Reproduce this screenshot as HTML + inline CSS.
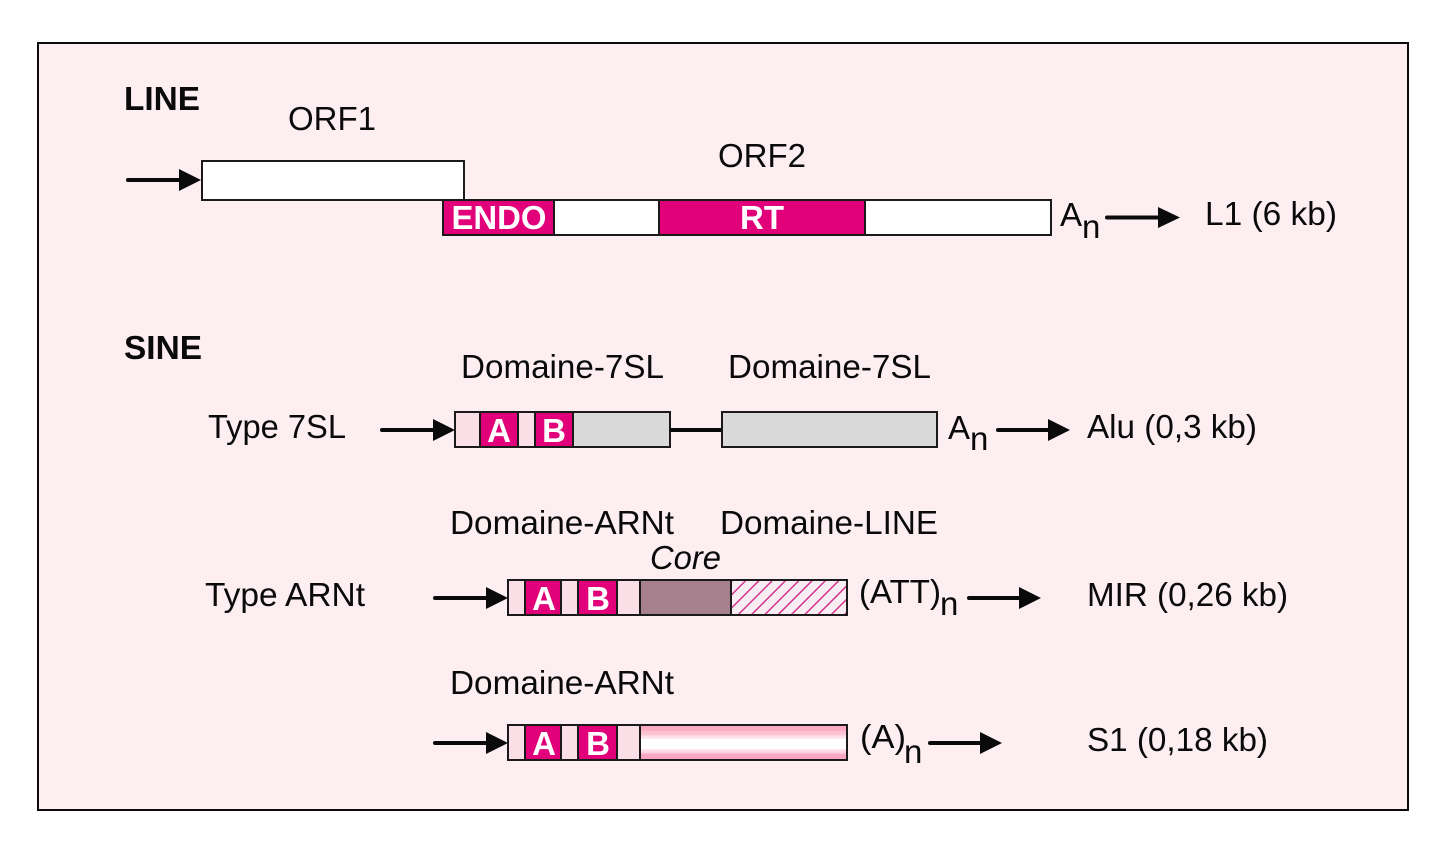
<!DOCTYPE html>
<html><head><meta charset="utf-8"><style>
html,body{margin:0;padding:0;background:#fff}
svg{display:block}
text{font-family:"Liberation Sans",Arial,sans-serif;font-size:33px;fill:#0a0a0a}
.b{font-weight:bold}
.w{font-weight:bold;fill:#fff;text-anchor:middle}
.box{stroke:#1a1a1a;stroke-width:2}
.ln{stroke:#0a0a0a;stroke-width:4;stroke-linecap:round;fill:none}
.ah{fill:#0a0a0a}
</style></head><body>
<svg width="1444" height="853" viewBox="0 0 1444 853" xmlns="http://www.w3.org/2000/svg">
<defs>
<pattern id="h" width="9.4" height="9.4" patternUnits="userSpaceOnUse" patternTransform="translate(731 581) rotate(45)">
<rect width="9.4" height="9.4" fill="#f8edf3"/>
<rect x="0" y="0" width="1.4" height="9.4" fill="#cf2a85"/>
</pattern>
<linearGradient id="g" x1="0" y1="0" x2="0" y2="1">
<stop offset="0" stop-color="#fba6c0"/><stop offset=".15" stop-color="#fbaac3"/>
<stop offset=".18" stop-color="#fcc0d2"/><stop offset=".28" stop-color="#fcc4d5"/>
<stop offset=".31" stop-color="#fee0e8"/><stop offset=".38" stop-color="#fee4eb"/>
<stop offset=".41" stop-color="#fff"/><stop offset=".68" stop-color="#fff"/>
<stop offset=".71" stop-color="#fee0e8"/><stop offset=".8" stop-color="#fdd0de"/>
<stop offset=".84" stop-color="#fba6c0"/><stop offset="1" stop-color="#fba6c0"/>
</linearGradient>
</defs>
<rect width="1444" height="853" fill="#fff"/>
<rect x="38" y="43" width="1370" height="767" fill="#fdeef1" stroke="#0a0a0a" stroke-width="2"/>

<text class="b" x="124" y="110" textLength="76" lengthAdjust="spacingAndGlyphs">LINE</text>
<text x="288" y="130" textLength="88" lengthAdjust="spacingAndGlyphs">ORF1</text>
<text x="718" y="167" textLength="88" lengthAdjust="spacingAndGlyphs">ORF2</text>
<line class="ln" x1="128" y1="180" x2="182" y2="180"/><polygon class="ah" points="179,169 201,180 179,191"/>
<rect class="box" x="202" y="161" width="262" height="39" fill="#fff"/>
<rect class="box" x="443" y="200" width="608" height="35" fill="#fff"/>
<rect class="box" x="443" y="200" width="111" height="35" fill="#e2007a"/>
<rect class="box" x="659" y="200" width="206" height="35" fill="#e2007a"/>
<text class="w" x="499" y="229" textLength="95" lengthAdjust="spacingAndGlyphs">ENDO</text>
<text class="w" x="762" y="229">RT</text>
<text x="1060" y="226">A</text><text x="1082" y="238">n</text>
<line class="ln" x1="1107" y1="217.5" x2="1160" y2="217.5"/><polygon class="ah" points="1158,207 1180,217.5 1158,228"/>
<text x="1205" y="225" textLength="132" lengthAdjust="spacingAndGlyphs">L1 (6 kb)</text>

<text class="b" x="124" y="359" textLength="78" lengthAdjust="spacingAndGlyphs">SINE</text>
<text x="461" y="378" textLength="203" lengthAdjust="spacingAndGlyphs">Domaine-7SL</text>
<text x="728" y="378" textLength="203" lengthAdjust="spacingAndGlyphs">Domaine-7SL</text>
<text x="208" y="438" textLength="138" lengthAdjust="spacingAndGlyphs">Type 7SL</text>
<line class="ln" x1="382" y1="430" x2="436" y2="430"/><polygon class="ah" points="433,419 455,430 433,441"/>
<rect class="box" x="455" y="412" width="215" height="35" fill="#d9d9d9"/>
<rect class="box" x="455" y="412" width="25" height="35" fill="#fadfe7"/>
<rect class="box" x="480" y="412" width="38" height="35" fill="#e2007a"/>
<rect class="box" x="518" y="412" width="17" height="35" fill="#fadfe7"/>
<rect class="box" x="535" y="412" width="38" height="35" fill="#e2007a"/>
<text class="w" x="499" y="442">A</text><text class="w" x="554" y="442">B</text>
<line x1="670" y1="430" x2="722" y2="430" stroke="#0a0a0a" stroke-width="4"/>
<rect class="box" x="722" y="412" width="215" height="35" fill="#d9d9d9"/>
<text x="948" y="439">A</text><text x="970" y="450">n</text>
<line class="ln" x1="998" y1="430" x2="1050" y2="430"/><polygon class="ah" points="1048,419 1070,430 1048,441"/>
<text x="1087" y="438" textLength="170" lengthAdjust="spacingAndGlyphs">Alu (0,3 kb)</text>

<text x="450" y="534" textLength="224" lengthAdjust="spacingAndGlyphs">Domaine-ARNt</text>
<text x="720" y="534" textLength="218" lengthAdjust="spacingAndGlyphs">Domaine-LINE</text>
<text x="650" y="569" font-style="italic" textLength="71" lengthAdjust="spacingAndGlyphs">Core</text>
<text x="205" y="606" textLength="160" lengthAdjust="spacingAndGlyphs">Type ARNt</text>
<line class="ln" x1="435" y1="598" x2="489" y2="598"/><polygon class="ah" points="486,587 508,598 486,609"/>
<rect class="box" x="508" y="580" width="132" height="35" fill="#fadfe7"/>
<rect class="box" x="525" y="580" width="36" height="35" fill="#e2007a"/>
<rect class="box" x="578" y="580" width="39" height="35" fill="#e2007a"/>
<rect class="box" x="640" y="580" width="91" height="35" fill="#a6808c"/>
<rect class="box" x="731" y="580" width="116" height="35" fill="url(#h)"/>
<text class="w" x="544" y="610">A</text><text class="w" x="598" y="610">B</text>
<text x="859" y="603" textLength="82" lengthAdjust="spacingAndGlyphs">(ATT)</text><text x="940" y="615">n</text>
<line class="ln" x1="969" y1="598" x2="1021" y2="598"/><polygon class="ah" points="1019,587 1041,598 1019,609"/>
<text x="1087" y="606" textLength="201" lengthAdjust="spacingAndGlyphs">MIR (0,26 kb)</text>

<text x="450" y="694" textLength="224" lengthAdjust="spacingAndGlyphs">Domaine-ARNt</text>
<line class="ln" x1="435" y1="743" x2="489" y2="743"/><polygon class="ah" points="486,732 508,743 486,754"/>
<rect class="box" x="508" y="725" width="132" height="35" fill="#fadfe7"/>
<rect class="box" x="525" y="725" width="36" height="35" fill="#e2007a"/>
<rect class="box" x="578" y="725" width="39" height="35" fill="#e2007a"/>
<rect class="box" x="640" y="725" width="207" height="35" fill="url(#g)"/>
<text class="w" x="544" y="755">A</text><text class="w" x="598" y="755">B</text>
<text x="860" y="748" textLength="46" lengthAdjust="spacingAndGlyphs">(A)</text><text x="904" y="763">n</text>
<line class="ln" x1="930" y1="743" x2="982" y2="743"/><polygon class="ah" points="980,732 1002,743 980,754"/>
<text x="1087" y="751" textLength="181" lengthAdjust="spacingAndGlyphs">S1 (0,18 kb)</text>
</svg>
</body></html>
